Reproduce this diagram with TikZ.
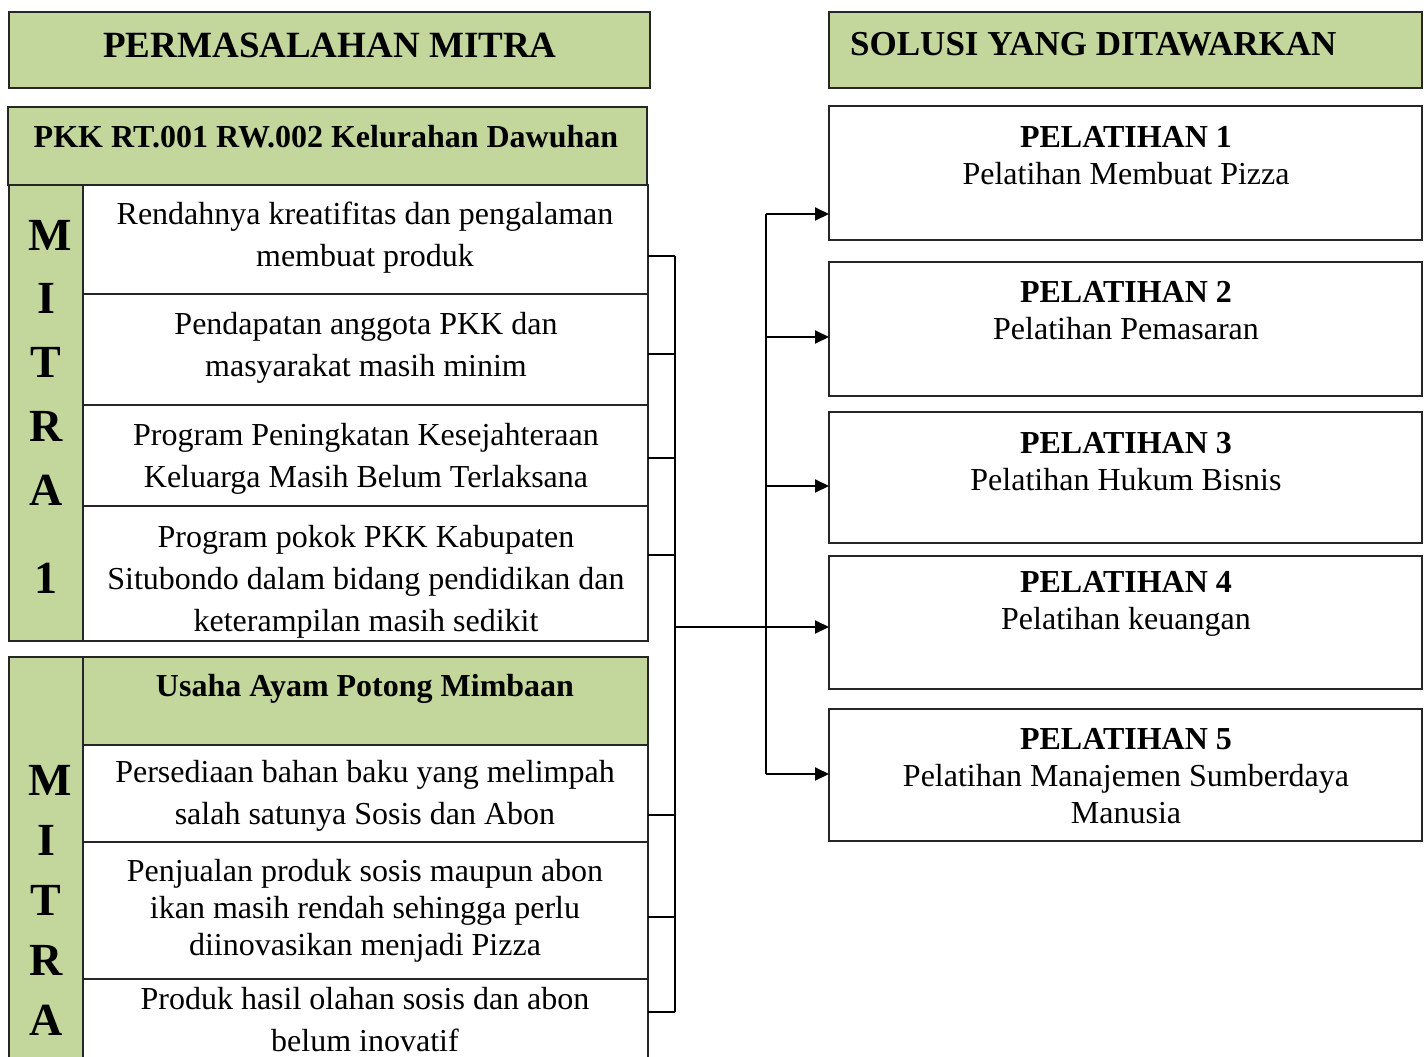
\documentclass[tikz,border=0pt]{standalone}
\usepackage{fontspec}
\setmainfont{Liberation Serif}
\usetikzlibrary{arrows.meta}
\definecolor{tgreen}{RGB}{195,214,155}
\begin{document}
\begin{tikzpicture}[x=1pt,y=-1pt,
  gbox/.style={draw=black!85, line width=1.6pt, fill=tgreen, anchor=north west, inner sep=0pt, outer sep=0pt},
  wbox/.style={draw=black!85, line width=1.6pt, fill=white, anchor=north west, inner sep=0pt, outer sep=0pt},
  conn/.style={line width=2pt},
  arr/.style={line width=2pt,-{Triangle[length=14pt,width=13pt]}},
  itxt/.style={font=\fontsize{32}{42}\selectfont, align=center, inner sep=0pt},
  jtxt/.style={font=\fontsize{32}{37}\selectfont, align=center, inner sep=0pt},
  ptxt/.style={font=\fontsize{32}{37}\selectfont, align=center, inner sep=0pt},
  ltr/.style={font=\bfseries\fontsize{46}{46}\selectfont, inner sep=0pt},
]
\useasboundingbox (0,0) rectangle (1427,1057);
% left titles
\node[gbox, minimum width=641pt, minimum height=76pt] (tl) at (9,12) {};
\node[gbox, minimum width=639pt, minimum height=78pt] (pkk) at (8,107) {};
\node[gbox, minimum width=74pt, minimum height=456pt] (m1col) at (9,185) {};
\node[wbox, minimum width=565pt, minimum height=109pt] (i1) at (83,185) {};
\node[wbox, minimum width=565pt, minimum height=111pt] (i2) at (83,294) {};
\node[wbox, minimum width=565pt, minimum height=101pt] (i3) at (83,405) {};
\node[wbox, minimum width=565pt, minimum height=135pt] (i4) at (83,506) {};
\node[gbox, minimum width=74pt, minimum height=413pt] (m2col) at (9,657) {};
\node[gbox, minimum width=565pt, minimum height=88pt] (uh) at (83,657) {};
\node[wbox, minimum width=565pt, minimum height=97pt] (j1) at (83,745) {};
\node[wbox, minimum width=565pt, minimum height=137pt] (j2) at (83,842) {};
\node[wbox, minimum width=565pt, minimum height=91pt] (j3) at (83,979) {};
% right
\node[gbox, minimum width=593pt, minimum height=76pt] (sol) at (829,12) {};
\node[wbox, minimum width=593pt, minimum height=134pt] (p1) at (829,106) {};
\node[wbox, minimum width=593pt, minimum height=134pt] (p2) at (829,262) {};
\node[wbox, minimum width=593pt, minimum height=131pt] (p3) at (829,412) {};
\node[wbox, minimum width=593pt, minimum height=133pt] (p4) at (829,556) {};
\node[wbox, minimum width=593pt, minimum height=132pt] (p5) at (829,709) {};
% texts
\node[font=\bfseries\fontsize{37}{37}\selectfont, inner sep=0pt] (tlt) at (330,45) {PERMASALAHAN MITRA};
\node[font=\bfseries\fontsize{32}{32}\selectfont, inner sep=0pt] (pkkt) at (326,137) {PKK RT.001 RW.002 Kelurahan Dawuhan};
\node[font=\bfseries\fontsize{35}{35}\selectfont, inner sep=0pt, anchor=west] (solt) at (850,44) {SOLUSI YANG DITAWARKAN};
\node[font=\bfseries\fontsize{32}{32}\selectfont, inner sep=0pt] (uht) at (365,689) {Usaha Ayam Potong Mimbaan};
\node[itxt] (i1t) at (365,238) {Rendahnya kreatifitas dan pengalaman\\membuat produk};
\node[itxt] (i2t) at (366,348) {Pendapatan anggota PKK dan\\masyarakat masih minim};
\node[itxt] (i3t) at (366,459) {Program Peningkatan Kesejahteraan\\Keluarga Masih Belum Terlaksana};
\begin{scope}
\clip (83,506) rectangle (648,641);
\node[itxt] (i4t) at (366,582) {Program pokok PKK Kabupaten\\Situbondo dalam bidang pendidikan dan\\keterampilan masih sedikit};
\end{scope}
\node[itxt] (j1t) at (365,796) {Persediaan bahan baku yang melimpah\\salah satunya Sosis dan Abon};
\node[jtxt] (j2t) at (365,911) {Penjualan produk sosis maupun abon\\ikan masih rendah sehingga perlu\\diinovasikan menjadi Pizza};
\node[itxt] (j3t) at (365,1020) {Produk hasil olahan sosis dan abon\\belum inovatif};
% MITRA letters
\node[ltr] (a1) at (50,235) {M};
\node[ltr] (a2) at (46,298) {I};
\node[ltr] (a3) at (46,362) {T};
\node[ltr] (a4) at (46,426) {R};
\node[ltr] (a5) at (46,490) {A};
\node[ltr] (a6) at (46,578) {1};
\node[ltr] (b1l) at (50,780) {M};
\node[ltr] (b2l) at (46,840) {I};
\node[ltr] (b3l) at (46,900) {T};
\node[ltr] (b4l) at (46,960) {R};
\node[ltr] (b5l) at (46,1020) {A};
% pelatihan texts
\node[ptxt] (p1t) at (1126,155.5) {\textbf{PELATIHAN 1}\\Pelatihan Membuat Pizza};
\node[ptxt] (p2t) at (1126,310.5) {\textbf{PELATIHAN 2}\\Pelatihan Pemasaran};
\node[ptxt] (p3t) at (1126,461.5) {\textbf{PELATIHAN 3}\\Pelatihan Hukum Bisnis};
\node[ptxt] (p4t) at (1126,604) {\textbf{PELATIHAN 4}\\Pelatihan keuangan};
\node[ptxt] (p5t) at (1126,776) {\textbf{PELATIHAN 5}\\Pelatihan Manajemen Sumberdaya\\Manusia};
% connectors
\coordinate (t1) at (675,256);
\coordinate (t2) at (675,354);
\coordinate (t3) at (675,458);
\coordinate (t4) at (675,555);
\coordinate (t5) at (675,815);
\coordinate (t6) at (675,917);
\coordinate (t7) at (675,1012);
\coordinate (jn) at (675,627);
\coordinate (c1) at (766,214);
\coordinate (c2) at (766,337);
\coordinate (c3) at (766,486);
\coordinate (c5) at (766,774);
\draw[conn] (i1.east|-t1) -- (t1);
\draw[conn] (i2.east|-t2) -- (t2);
\draw[conn] (i3.east|-t3) -- (t3);
\draw[conn] (i4.east|-t4) -- (t4);
\draw[conn] (j1.east|-t5) -- (t5);
\draw[conn] (j2.east|-t6) -- (t6);
\draw[conn] (j3.east|-t7) -- (t7);
\draw[conn] (t1) -- (t7);
\draw[conn] (c1) -- (c5);
\draw[arr] (jn) -- (p4.west|-jn);
\draw[arr] (c1) -- (p1.west|-c1);
\draw[arr] (c2) -- (p2.west|-c2);
\draw[arr] (c3) -- (p3.west|-c3);
\draw[arr] (c5) -- (p5.west|-c5);
\end{tikzpicture}
\end{document}
